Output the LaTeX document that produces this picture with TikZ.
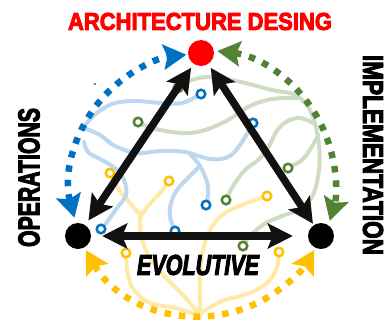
\documentclass[tikz,border=0pt]{standalone}
\usepackage{fontspec}
\setmainfont{Liberation Sans}
\newfontfamily\heavy{Liberation Sans}[BoldFeatures={FakeBold=4}, BoldItalicFeatures={FakeBold=4}]
\usetikzlibrary{arrows.meta,calc}
\definecolor{cblue}{HTML}{0070C0}
\definecolor{cgreen}{HTML}{548235}
\definecolor{cyellow}{HTML}{FFC000}
\definecolor{lblue}{HTML}{BDD7EE}
\definecolor{lgreen}{HTML}{CFDCC4}
\definecolor{lyellow}{HTML}{FFE9A6}
\definecolor{cred}{HTML}{FF0000}
\definecolor{cblack}{HTML}{111111}
\tikzset{
  dtip/.tip={Stealth[length=23pt,width=25pt,inset=4pt]},
  btip/.tip={Stealth[length=25pt,width=25pt,inset=5pt]},
  dotarc/.style={draw=#1, line width=6.5pt, dash pattern=on 6.5pt off 8pt, dtip-dtip},
  bigarrow/.style={draw=cblack, line width=7.5pt, btip-btip},
  bgline/.style={draw=#1, line width=4pt, line cap=round, line join=round},
  ring/.style={circle, draw=#1, line width=2.5pt, fill=white, minimum size=8.5pt, inner sep=0pt},
  bigdot/.style={circle, fill=#1, minimum size=26pt, inner sep=0pt},
  label/.style={inner sep=0pt}
}
\begin{document}
\begin{tikzpicture}[x=1pt,y=-1pt]
\useasboundingbox (0,0) rectangle (388,322);
% ring positions
\coordinate (pb1) at (201,94);
\coordinate (pb2) at (253,123);
\coordinate (pb3) at (206,205);
\coordinate (pb4) at (175,231);
\coordinate (pb5) at (101,229);
\coordinate (pg1) at (178,88);
\coordinate (pg2) at (138,122);
\coordinate (pg3) at (288,168);
\coordinate (pg4) at (226,200);
\coordinate (pg5) at (243,246);
\coordinate (py1) at (110,173);
\coordinate (py2) at (169,181);
\coordinate (py3) at (126,253);
\coordinate (py4) at (267,196);
\coordinate (py5) at (279,252);
% background tree lines
\draw[bgline=lyellow] plot[smooth, tension=0.6] coordinates {(py1) (118,188) (130,203) (140,215)};
\draw[bgline=lyellow] plot[smooth, tension=0.6] coordinates {(py2) (160,193) (148,206) (140,218)};
\draw[bgline=lyellow] plot[smooth, tension=0.6] coordinates {(140,212) (141,235) (150,258) (168,280) (185,297) (199,314)};
\draw[bgline=lyellow] plot[smooth, tension=0.6] coordinates {(py3) (127,268) (132,287) (148,302) (175,308) (199,315)};
\draw[bgline=lyellow] plot[smooth, tension=0.6] coordinates {(py4) (247,203) (225,213) (211,228) (203,250) (200,275) (200,298) (200,318)};
\draw[bgline=lyellow] plot[smooth, tension=0.6] coordinates {(py5) (277,267) (267,283) (247,294) (222,301) (201,313)};
\draw[bgline=lgreen] plot[smooth, tension=0.6] coordinates {(pg1) (192,80) (212,77) (245,83) (272,90) (293,94) (306,104) (314,120) (319,145) (319,170) (313,195) (300,209) (282,216) (264,224) (250,236) (pg5)};
\draw[bgline=lgreen] plot[smooth, tension=0.6] coordinates {(pg2) (152,128) (172,132) (190,133) (208,129) (228,120) (250,106) (272,99) (298,98)};
\draw[bgline=lgreen] plot[smooth, tension=0.6] coordinates {(pg4) (233,186) (245,170) (258,160) (268,148) (276,132) (286,122) (300,118) (315,124)};
\draw[bgline=lgreen] plot[smooth, tension=0.6] coordinates {(pg3) (302,160) (311,148) (318,136)};
\draw[bgline=lblue] plot[smooth, tension=0.6] coordinates {(pb1) (182,103) (160,103) (137,101) (115,103) (98,112) (86,124)};
\draw[bgline=lblue] plot[smooth, tension=0.6] coordinates {(84,128) (100,135) (115,146) (137,153) (160,151) (185,152) (210,159) (228,157) (240,145) (pb2)};
\draw[bgline=lblue] plot[smooth, tension=0.6] coordinates {(190,154) (200,166) (207,182) (208,195) (pb3)};
\draw[bgline=lblue] plot[smooth, tension=0.6] coordinates {(198,168) (188,178) (177,190) (171,203) (170,217) (pb4)};
\draw[bgline=lblue] plot[smooth, tension=0.6] coordinates {(84,142) (88,152) (100,159) (115,168) (124,180) (126,195) (117,208) (107,222) (pb5)};
% rings
\node[ring=cblue] (b1) at (pb1) {};
\node[ring=cblue] (b2) at (pb2) {};
\node[ring=cblue] (b3) at (pb3) {};
\node[ring=cblue] (b4) at (pb4) {};
\node[ring=cblue] (b5) at (pb5) {};
\node[ring=cgreen] (g1) at (pg1) {};
\node[ring=cgreen] (g2) at (pg2) {};
\node[ring=cgreen] (g3) at (pg3) {};
\node[ring=cgreen] (g4) at (pg4) {};
\node[ring=cgreen] (g5) at (pg5) {};
\node[ring=cyellow] (y1) at (py1) {};
\node[ring=cyellow] (y2) at (py2) {};
\node[ring=cyellow] (y3) at (py3) {};
\node[ring=cyellow] (y4) at (py4) {};
\node[ring=cyellow] (y5) at (py5) {};
% main dots
\node[bigdot=cred] (ad) at (201,53) {};
\node[bigdot=black] (op) at (78,236) {};
\node[bigdot=black] (im) at (321,236) {};
% dotted arcs
\coordinate (ctr) at (200,184);
\coordinate (ctrg) at (201,184);
\draw[dotarc=cblue] ($(ctr)+(165:130)$) arc[start angle=165, end angle=264, radius=130];
\draw[dotarc=cgreen] ($(ctrg)+(277:134)$) arc[start angle=277, end angle=376, radius=134];
\draw[dotarc=cyellow] ($(ctr)+(150:132)$) arc[start angle=150, end angle=30, radius=132];
% black arrows
\draw[bigarrow, shorten <=4.5pt, shorten >=5.5pt] (ad) -- (op);
\draw[bigarrow, shorten <=4.5pt, shorten >=1.5pt] (ad) -- (im);
\draw[bigarrow, shorten <=11pt, shorten >=15pt] (op) -- (im);
% speck
\fill[black] (95,84) circle (0.8);
% labels
\node[label, text=cred] (title) at (200,21.5) {\resizebox{264pt}{17pt}{\heavy\bfseries ARCHITECTURE DESING}};
\node[label, rotate=90] (ops) at (29,177.5) {\resizebox{139pt}{21pt}{\heavy\bfseries OPERATIONS}};
\node[label, rotate=-90] (impl) at (373,155) {\resizebox{200pt}{20pt}{\heavy\bfseries IMPLEMENTATION}};
\node[label] (evo) at (198,265) {\resizebox{122pt}{20pt}{\heavy\bfseries\itshape EVOLUTIVE}};
\end{tikzpicture}
\end{document}
